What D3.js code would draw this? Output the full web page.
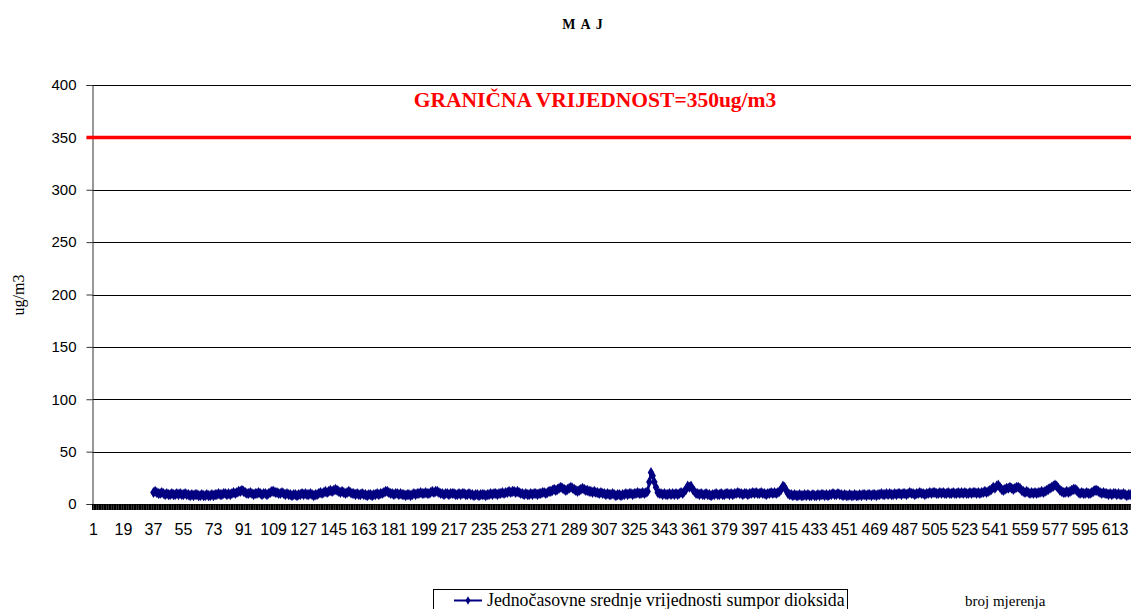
<!DOCTYPE html>
<html>
<head>
<meta charset="utf-8">
<script src="https://cdn.jsdelivr.net/npm/d3@7"></script>
<style>
  html, body { margin: 0; padding: 0; background: #fff; }
  svg { display: block; }
  .tick-label { font-family: "Liberation Sans", Arial, sans-serif; fill: #000; }
  .serif { font-family: "Liberation Serif", "Times New Roman", serif; fill: #000; }
</style>
</head>
<body>
<div id="chart"></div>
<script>
// hourly SO2 means, May (ug/m3); measurements begin at hour 37
const hourCount = 622;
const firstHour = 37;
const limitValue = 350;
const yTicks = [0, 50, 100, 150, 200, 250, 300, 350, 400];
const labelStep = 18;

const values = [
  11, 12, 11, 10, 10, 11, 10, 9, 10, 9, 9, 10, 9, 9, 10, 9, 10, 9,
  9, 10, 9, 9, 8, 9, 8, 9, 9, 8, 8, 9, 8, 8, 9, 8, 8, 9,
  8, 9, 9, 10, 9, 9, 10, 10, 9, 10, 9, 10, 11, 10, 11, 12, 12, 13,
  12, 11, 10, 10, 11, 10, 9, 10, 10, 11, 10, 9, 10, 10, 9, 10, 11, 12,
  12, 11, 11, 10, 10, 11, 10, 9, 10, 9, 9, 8, 9, 9, 8, 9, 9, 10,
  9, 10, 9, 9, 10, 9, 8, 9, 9, 10, 11, 10, 11, 12, 11, 12, 13, 12,
  13, 14, 13, 12, 11, 12, 11, 10, 11, 12, 11, 10, 10, 9, 10, 9, 9, 10,
  9, 9, 8, 9, 9, 8, 9, 9, 10, 9, 10, 10, 11, 12, 12, 11, 10, 10,
  9, 10, 10, 9, 10, 9, 9, 8, 9, 9, 8, 9, 10, 9, 10, 10, 11, 10,
  10, 11, 10, 10, 11, 12, 11, 12, 12, 11, 10, 10, 9, 10, 10, 9, 10, 10,
  10, 9, 9, 10, 9, 10, 10, 9, 9, 10, 9, 9, 8, 9, 9, 8, 9, 9,
  9, 8, 9, 9, 10, 9, 10, 10, 9, 10, 10, 11, 10, 11, 11, 12, 11, 12,
  12, 11, 12, 11, 10, 10, 9, 10, 9, 9, 10, 9, 10, 10, 9, 10, 10, 11,
  11, 10, 11, 12, 12, 13, 14, 13, 14, 15, 16, 15, 14, 13, 14, 15, 16, 15,
  14, 13, 12, 13, 14, 15, 14, 13, 13, 12, 12, 11, 12, 11, 11, 10, 11, 10,
  10, 9, 10, 9, 9, 10, 9, 8, 9, 9, 8, 9, 9, 10, 9, 10, 10, 9,
  10, 10, 11, 10, 10, 11, 10, 11, 12, 21, 30, 27, 21, 16, 11, 10, 10, 9,
  10, 9, 9, 10, 9, 10, 9, 10, 9, 10, 11, 10, 12, 14, 17, 16, 17, 14,
  12, 10, 10, 9, 10, 9, 9, 10, 9, 9, 8, 9, 9, 10, 9, 9, 10, 9,
  9, 10, 10, 9, 10, 9, 10, 10, 11, 10, 10, 9, 10, 10, 9, 10, 10, 11,
  10, 11, 10, 10, 11, 10, 10, 9, 10, 10, 11, 10, 11, 10, 11, 12, 14, 17,
  16, 13, 10, 9, 9, 8, 9, 8, 8, 9, 8, 8, 9, 8, 9, 8, 8, 9,
  8, 8, 9, 8, 9, 9, 8, 9, 8, 9, 9, 10, 9, 9, 10, 9, 9, 8,
  9, 8, 8, 9, 8, 8, 9, 8, 8, 9, 8, 9, 9, 8, 9, 9, 8, 9,
  9, 8, 9, 9, 10, 9, 9, 10, 9, 10, 9, 9, 10, 9, 10, 10, 9, 10,
  10, 9, 10, 11, 10, 10, 9, 10, 10, 11, 10, 10, 9, 10, 10, 11, 10, 11,
  11, 10, 10, 11, 10, 11, 10, 10, 11, 10, 10, 11, 10, 10, 11, 10, 11, 10,
  11, 10, 10, 11, 10, 11, 11, 10, 11, 10, 11, 11, 12, 11, 12, 13, 14, 16,
  15, 17, 18, 16, 14, 13, 14, 15, 15, 16, 15, 14, 15, 16, 16, 15, 13, 12,
  11, 12, 11, 10, 11, 10, 11, 10, 11, 11, 12, 11, 12, 13, 14, 15, 16, 17,
  18, 17, 15, 13, 12, 11, 11, 12, 11, 12, 13, 14, 14, 13, 11, 10, 11, 10,
  10, 11, 10, 10, 11, 12, 13, 13, 12, 11, 10, 11, 10, 10, 9, 10, 9, 10,
  10, 9, 10, 9, 9, 10, 9, 8, 9, 9
];

const hours = d3.range(1, hourCount + 1);
const points = values.map((v, i) => ({ hour: firstHour + i, value: v }));

const W = 1131, H = 609;
const margin = { top: 85, right: 0, bottom: 105, left: 92.5 };

const svg = d3.select('#chart').append('svg')
  .attr('width', W)
  .attr('height', H);

const x = d3.scaleBand()
  .domain(hours)
  .range([margin.left, W - margin.right])
  .padding(0);

// boundaries between categories, for the dense tick marks
const xEdge = d3.scaleLinear()
  .domain([0, hourCount])
  .range([margin.left, W - margin.right]);

const y = d3.scaleLinear()
  .domain([0, 400])
  .range([H - margin.bottom, margin.top]);

// gridlines
svg.append('g')
  .selectAll('line')
  .data(yTicks.filter(d => d > 0))
  .join('line')
  .attr('x1', margin.left)
  .attr('x2', W)
  .attr('y1', d => Math.round(y(d)) + 0.5)
  .attr('y2', d => Math.round(y(d)) + 0.5)
  .attr('stroke', '#000')
  .attr('stroke-width', 1);

// y axis
const yAxis = svg.append('g')
  .attr('transform', `translate(${margin.left},0)`)
  .call(d3.axisLeft(y).tickValues(yTicks).tickSize(6).tickPadding(10));
yAxis.select('.domain').attr('stroke', '#333');
yAxis.selectAll('.tick line').attr('stroke', '#333');
yAxis.selectAll('text').attr('class', 'tick-label').attr('fill', null).attr('font-size', 15);

// limit line
svg.append('line')
  .attr('x1', margin.left - 6)
  .attr('x2', W)
  .attr('y1', y(limitValue))
  .attr('y2', y(limitValue))
  .attr('stroke', '#ff0000')
  .attr('stroke-width', 3.5);

svg.append('text')
  .attr('class', 'serif')
  .attr('x', 595)
  .attr('y', 107)
  .attr('text-anchor', 'middle')
  .attr('font-size', 21.5)
  .attr('font-weight', 'bold')
  .style('fill', '#ff0000')
  .text('GRANIČNA VRIJEDNOST=350ug/m3');

const y0 = Math.round(y(0));
const xLabels = svg.append('g')
  .attr('transform', `translate(0,${y0})`)
  .call(d3.axisBottom(x)
    .tickValues(hours.filter(h => (h - 1) % labelStep === 0))
    .tickSize(0)
    .tickPadding(20));
xLabels.select('.domain').attr('stroke', '#333').attr('d', `M${margin.left},0.5H${W}`);
xLabels.selectAll('text').attr('class', 'tick-label').attr('fill', null).attr('font-size', 16);

// x axis: one tick mark per category edge
svg.append('g')
  .selectAll('line')
  .data(d3.range(0, hourCount + 1))
  .join('line')
  .attr('x1', i => Math.floor(xEdge(i)) + 0.9)
  .attr('x2', i => Math.floor(xEdge(i)) + 0.9)
  .attr('y1', y0)
  .attr('y2', y0 + 6)
  .style('stroke', '#000')
  .style('stroke-width', '1.8px');

// series
const line = d3.line()
  .x(d => x(d.hour) + x.bandwidth() / 2)
  .y(d => y(d.value));

svg.append('path')
  .datum(points)
  .attr('fill', 'none')
  .attr('stroke', '#000080')
  .attr('stroke-width', 2.5)
  .attr('d', line);

const diamond = d3.symbol().type(d3.symbolDiamond).size(36);
svg.append('g')
  .selectAll('path')
  .data(points)
  .join('path')
  .attr('transform', d => `translate(${x(d.hour) + x.bandwidth() / 2},${y(d.value)})`)
  .attr('d', diamond)
  .attr('fill', '#000080');

// titles
svg.append('text')
  .attr('class', 'serif')
  .attr('x', 585)
  .attr('y', 29)
  .attr('text-anchor', 'middle')
  .attr('font-size', 14)
  .attr('font-weight', 'bold')
  .attr('letter-spacing', 5)
  .text('MAJ');

svg.append('text')
  .attr('class', 'serif')
  .attr('transform', 'translate(24,295) rotate(-90)')
  .attr('text-anchor', 'middle')
  .attr('font-size', 16)
  .text('ug/m3');

// legend
const legend = svg.append('g').attr('transform', 'translate(433,589)');
legend.append('rect')
  .attr('x', 0.5)
  .attr('y', 0.5)
  .attr('width', 414)
  .attr('height', 30)
  .attr('fill', '#fff')
  .attr('stroke', '#000');
legend.append('line')
  .attr('x1', 21)
  .attr('x2', 49)
  .attr('y1', 11.5)
  .attr('y2', 11.5)
  .attr('stroke', '#000080')
  .attr('stroke-width', 2);
legend.append('path')
  .attr('transform', 'translate(35,11.5)')
  .attr('d', d3.symbol().type(d3.symbolDiamond).size(22))
  .attr('fill', '#000080');
legend.append('text')
  .attr('class', 'serif')
  .attr('x', 54)
  .attr('y', 17)
  .attr('font-size', 17.8)
  .text('Jednočasovne srednje vrijednosti sumpor dioksida');

svg.append('text')
  .attr('class', 'serif')
  .attr('x', 965)
  .attr('y', 606)
  .attr('font-size', 15)
  .text('broj mjerenja');
</script>
</body>
</html>
